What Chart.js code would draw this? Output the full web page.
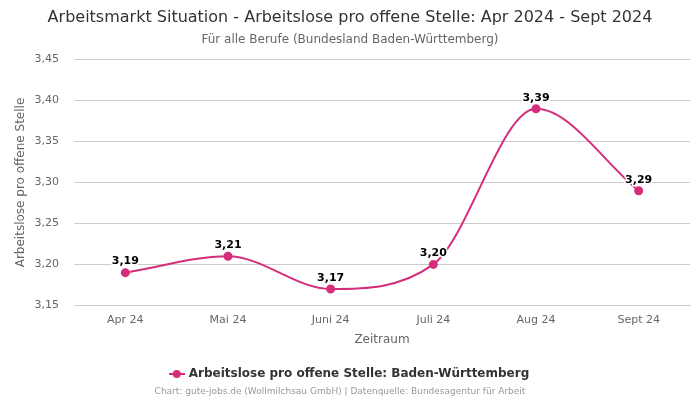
<!DOCTYPE html>
<html>
<head>
<meta charset="utf-8">
<script src="https://cdn.jsdelivr.net/npm/chart.js@4"></script>
<style>
  html, body { margin: 0; padding: 0; background: #fff; }
  #wrap { width: 700px; height: 400px; }
</style>
</head>
<body>
<div id="wrap"><canvas id="chart"></canvas></div>
<script>
// ---- Daten ----
const labels = ["Apr 24", "Mai 24", "Juni 24", "Juli 24", "Aug 24", "Sept 24"];
const values = [3.19, 3.21, 3.17, 3.20, 3.39, 3.29];
const yTicks = [3.15, 3.20, 3.25, 3.30, 3.35, 3.40, 3.45];

const PINK = "#d42e7b";
const FONT = "'DejaVu Sans', sans-serif";
const fmt = (v) => v.toFixed(2).replace(".", ",");

// Legendensymbol: Linie mit Punkt
function legendIcon(){
  const c = document.createElement("canvas");
  c.width = 16; c.height = 10;
  const g = c.getContext("2d");
  g.strokeStyle = PINK; g.lineWidth = 2;
  g.beginPath(); g.moveTo(0, 5); g.lineTo(16, 5); g.stroke();
  g.fillStyle = PINK;
  g.beginPath(); g.arc(8, 5, 4, 0, Math.PI * 2); g.fill();
  return c;
}

// Werte über den Punkten (mit weißer Kontur)
const valueLabels = {
  id: "valueLabels",
  afterDatasetsDraw(chart){
    const ctx = chart.ctx;
    const meta = chart.getDatasetMeta(0);
    ctx.save();
    ctx.font = "bold 11px " + FONT;
    ctx.textAlign = "center";
    ctx.textBaseline = "middle";
    ctx.lineJoin = "round";
    meta.data.forEach((pt, i) => {
      const txt = fmt(values[i]);
      const y = pt.y - 11;
      ctx.strokeStyle = "#fff";
      ctx.lineWidth = 3;
      ctx.strokeText(txt, pt.x, y);
      ctx.fillStyle = "#000";
      ctx.fillText(txt, pt.x, y);
    });
    ctx.restore();
  }
};

// Quellenangabe unten
const footer = {
  id: "footer",
  afterDraw(chart){
    const ctx = chart.ctx;
    ctx.save();
    ctx.font = "9px " + FONT;
    ctx.fillStyle = "#999";
    ctx.textAlign = "center";
    ctx.textBaseline = "middle";
    ctx.fillText("Chart: gute-jobs.de (Wollmilchsau GmbH) | Datenquelle: Bundesagentur für Arbeit", 340, 392);
    ctx.restore();
  }
};

new Chart(document.getElementById("chart"), {
  type: "line",
  data: {
    labels,
    datasets: [{
      label: "Arbeitslose pro offene Stelle: Baden-Württemberg",
      data: values,
      borderColor: PINK,
      backgroundColor: PINK,
      borderWidth: 2,
      pointRadius: 3.5,
      pointHoverRadius: 3.5,
      cubicInterpolationMode: "monotone",
      pointStyle: "circle"
    }]
  },
  options: {
    responsive: true,
    maintainAspectRatio: false,
    animation: false,
    layout: { padding: { left: 10, right: 10, bottom: 10 } },
    plugins: {
      title: {
        display: true,
        text: "Arbeitsmarkt Situation - Arbeitslose pro offene Stelle: Apr 2024 - Sept 2024",
        color: "#333",
        font: { family: FONT, size: 16, weight: "normal" },
        padding: { top: 8, bottom: 5 }
      },
      subtitle: {
        display: true,
        text: "Für alle Berufe (Bundesland Baden-Württemberg)",
        color: "#666",
        font: { family: FONT, size: 12 },
        padding: { bottom: 13 }
      },
      legend: {
        position: "bottom",
        labels: {
          usePointStyle: true,
          generateLabels: (chart) => {
            const items = Chart.defaults.plugins.legend.labels.generateLabels(chart);
            items.forEach(it => { it.pointStyle = legendIcon(); });
            return items;
          },
          color: "#333",
          font: { family: FONT, size: 12, weight: "bold" },
          padding: 12
        }
      },
      tooltip: { enabled: false }
    },
    scales: {
      x: {
        offset: true,
        grid: { display: false, drawTicks: false },
        border: { color: "#ccc" },
        ticks: { color: "#666", font: { family: FONT, size: 11 }, padding: 8 },
        title: { display: true, text: "Zeitraum", color: "#666", font: { family: FONT, size: 12 }, padding: { top: -2, bottom: 9 } }
      },
      y: {
        min: 3.15,
        max: 3.45,
        afterBuildTicks: (axis) => { axis.ticks = yTicks.map(v => ({ value: v })); },
        afterFit: (axis) => { axis.width = 64; },
        grid: { color: "#ccc", drawTicks: false },
        border: { display: false },
        ticks: { color: "#666", font: { family: FONT, size: 11 }, padding: 15, callback: (v) => fmt(v) },
        title: { display: true, text: "Arbeitslose pro offene Stelle", color: "#666", font: { family: FONT, size: 12 } }
      }
    }
  },
  plugins: [valueLabels, footer]
});
</script>
</body>
</html>
